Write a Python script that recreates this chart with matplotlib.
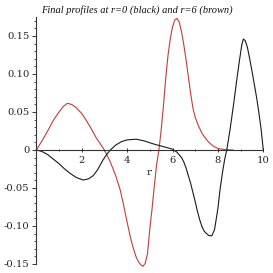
import matplotlib
matplotlib.use("Agg")
import matplotlib.pyplot as plt
from matplotlib.ticker import MultipleLocator, FixedLocator

# r = 0 profile (black)
r_black = [0, 0.25, 0.5, 0.75, 1.0, 1.25, 1.5, 1.75, 2.06, 2.3, 2.5, 2.7, 2.94, 3.1, 3.26,
           3.5, 3.75, 4.0, 4.4, 4.75, 5.0, 5.25, 5.5, 5.75, 6.0, 6.2, 6.4, 6.5, 6.6, 6.7,
           6.8, 6.9, 7.0, 7.1, 7.2, 7.3, 7.4, 7.5, 7.6, 7.73, 7.85, 8.0, 8.09, 8.2, 8.3,
           8.39, 8.53, 8.7, 8.83, 8.95, 9.05, 9.12, 9.2, 9.3, 9.4, 9.5, 9.6, 9.71, 9.8,
           9.9, 10.0]
v_black = [0, -0.002, -0.006, -0.012, -0.018, -0.025, -0.031, -0.036, -0.0395, -0.038,
           -0.034, -0.026, -0.013, -0.006, 0.0, 0.0065, 0.011, 0.0133, 0.0142, 0.012,
           0.0095, 0.0072, 0.0052, 0.0032, 0.001, -0.003, -0.010, -0.016, -0.024, -0.034,
           -0.044, -0.056, -0.068, -0.081, -0.092, -0.101, -0.107, -0.110, -0.1125, -0.113,
           -0.105, -0.077, -0.053, -0.030, -0.012, 0.0, 0.026, 0.062, 0.092, 0.118, 0.138,
           0.146, 0.144, 0.135, 0.120, 0.104, 0.087, 0.068, 0.050, 0.028, 0.0]

# r = 6 profile (brown)
r_brown = [0, 0.25, 0.5, 0.75, 1.0, 1.2, 1.37, 1.55, 1.75, 2.0, 2.2, 2.4, 2.64, 2.8,
           3.0, 3.25, 3.5, 3.7, 3.85, 4.0, 4.14, 4.25, 4.4, 4.5, 4.6, 4.7, 4.8, 4.9,
           5.0, 5.1, 5.2, 5.3, 5.4, 5.5, 5.6, 5.7, 5.8, 5.9, 6.0, 6.1, 6.2, 6.3, 6.4,
           6.5, 6.6, 6.7, 6.8, 6.9, 7.0, 7.14, 7.3, 7.44, 7.6, 7.8, 8.0, 8.3, 8.67]
v_brown = [0, 0.012, 0.025, 0.039, 0.050, 0.0575, 0.0614, 0.060, 0.056, 0.048, 0.039,
           0.029, 0.016, 0.009, 0.0, -0.015, -0.034, -0.053, -0.073, -0.095, -0.114,
           -0.127, -0.141, -0.147, -0.151, -0.153, -0.149, -0.136, -0.104, -0.077,
           -0.047, -0.019, 0.0, 0.026, 0.058, 0.094, 0.124, 0.146, 0.162, 0.171, 0.173,
           0.168, 0.155, 0.138, 0.118, 0.096, 0.074, 0.055, 0.043, 0.032, 0.022, 0.016,
           0.010, 0.005, 0.002, 0.0005, 0.0]

x_major = [2, 4, 6, 8, 10]
x_minor = [1, 3, 5, 7, 9]
y_major = [-0.15, -0.10, -0.05, 0, 0.05, 0.10, 0.15]
y_labels = ["-0.15", "-0.10", "-0.05", "0", "0.05", "0.10", "0.15"]

title = "Final profiles at r=0 (black) and r=6 (brown)"

fig = plt.figure(figsize=(2.73, 2.73), dpi=100)
ax = fig.add_axes([0.133, 0.033, 0.8315, 0.9048])

ax.plot(r_brown, v_brown, color="#c83a3a", lw=0.8, clip_on=False)
ax.plot(r_black, v_black, color="#1a1a1a", lw=0.8, clip_on=False)

ax.set_xlim(0, 10)
ax.set_ylim(-0.15, 0.175)

for s in ("top", "right"):
    ax.spines[s].set_visible(False)
ax.spines["left"].set_position(("data", 0))
ax.spines["bottom"].set_position(("data", 0))
for s in ("left", "bottom"):
    ax.spines[s].set_linewidth(0.8)
    ax.spines[s].set_color("#333333")

ax.xaxis.set_major_locator(FixedLocator(x_major))
ax.xaxis.set_minor_locator(FixedLocator(x_minor))
ax.set_xticklabels([str(v) for v in x_major])
ax.yaxis.set_major_locator(FixedLocator(y_major))
ax.set_yticklabels(y_labels)
ax.yaxis.set_minor_locator(MultipleLocator(0.01))

for lab in ax.get_xticklabels() + ax.get_yticklabels():
    lab.set_fontfamily("DejaVu Serif")
    lab.set_fontsize(7.2)
    lab.set_color("#222222")

ax.tick_params(axis="y", which="major", direction="out", length=3, width=0.7, pad=2, colors="#333333", labelcolor="#222222")
ax.tick_params(axis="y", which="minor", direction="out", length=1.6, width=0.6, colors="#333333")
ax.tick_params(axis="x", which="major", direction="inout", length=3, width=0.7, pad=3, colors="#333333", labelcolor="#222222")
ax.tick_params(axis="x", which="minor", direction="inout", length=2, width=0.6, colors="#333333")

ax.text(4.95, -0.029, "r", fontfamily="DejaVu Serif", fontsize=7.5, ha="center", va="center", color="#222222")

fig.text(0.5, 0.963, title, fontfamily="Liberation Serif", style="italic", fontsize=7.5,
         ha="center", va="center", color="#111111")

fig.savefig("out.png", dpi=100, facecolor="white")
